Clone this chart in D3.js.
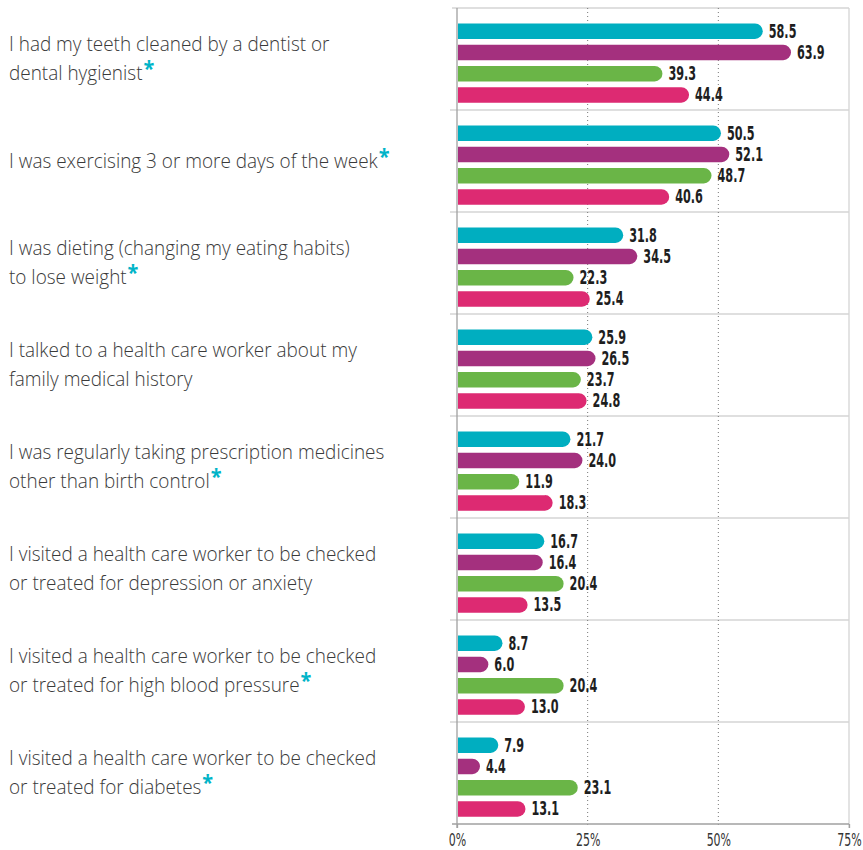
<!DOCTYPE html>
<html><head><meta charset="utf-8">
<script src="https://cdn.jsdelivr.net/npm/d3@7"></script>
<style>
html,body{margin:0;padding:0;background:#fff;}
svg{display:block;}
</style></head>
<body>
<svg id="chart" width="863" height="850"></svg>
<script>
// ---- data ----
const categories = [
  "teeth", "exercise", "dieting", "history", "prescription", "depression", "bloodpressure", "diabetes"
];
const labelLines = [
  ["I had my teeth cleaned by a dentist or", "dental hygienist"],
  ["I was exercising 3 or more days of the week"],
  ["I was dieting (changing my eating habits)", "to lose weight"],
  ["I talked to a health care worker about my", "family medical history"],
  ["I was regularly taking prescription medicines", "other than birth control"],
  ["I visited a health care worker to be checked", "or treated for depression or anxiety"],
  ["I visited a health care worker to be checked", "or treated for high blood pressure"],
  ["I visited a health care worker to be checked", "or treated for diabetes"]
];
const significant = [true, true, true, false, true, false, true, true];
const seriesNames = ["group1", "group2", "group3", "group4"];
const group1 = [58.5, 50.5, 31.8, 25.9, 21.7, 16.7, 8.7, 7.9];
const group2 = [63.9, 52.1, 34.5, 26.5, 24.0, 16.4, 6.0, 4.4];
const group3 = [39.3, 48.7, 22.3, 23.7, 11.9, 20.4, 20.4, 23.1];
const group4 = [44.4, 40.6, 25.4, 24.8, 18.3, 13.5, 13.0, 13.1];
const seriesValues = [group1, group2, group3, group4];
const seriesColors = ["#00aec0", "#a4307e", "#6ab547", "#dd2a72"];
const tickValues = [0, 25, 50, 75];
const footnote = "*SIGNIFICANT RACE DIFFERENCES";

// ---- layout ----
const svg = d3.select("#chart");
const x0 = 457, x1 = 849, yTop = 8, yBot = 824;
const x = d3.scaleLinear().domain([0, 75]).range([x0, x1]);
const y = d3.scaleBand().domain(categories).range([yTop, yBot]).padding(0);
const ySub = d3.scaleBand().domain(seriesNames).range([12.5, 97.5]).padding(0);
const barH = 15.5;
const narrow = '"DejaVu Sans Condensed", "DejaVu Sans", sans-serif';

// grid: top border, separators, right border
const grid = svg.append("g");
grid.append("line").attr("x1", 452).attr("x2", x1).attr("y1", yTop).attr("y2", yTop)
  .attr("stroke", "#d4d4d4").attr("stroke-width", 1.3);
categories.slice(1).forEach(c => {
  grid.append("line").attr("x1", 450).attr("x2", x1).attr("y1", y(c)).attr("y2", y(c))
    .attr("stroke", "#d4d4d4").attr("stroke-width", 1.3);
});
grid.append("line").attr("x1", x1).attr("x2", x1).attr("y1", yTop).attr("y2", yBot + 4)
  .attr("stroke", "#d4d4d4").attr("stroke-width", 1.3);
[25, 50].forEach(v => {
  grid.append("line").attr("x1", x(v)).attr("x2", x(v)).attr("y1", yTop).attr("y2", yBot + 2)
    .attr("stroke", "#777").attr("stroke-width", 1).attr("stroke-dasharray", "1,3");
});

// bars
const barsG = svg.append("g");
categories.forEach((c, i) => {
  seriesNames.forEach((s, j) => {
    const v = seriesValues[j][i];
    const cy = y(c) + ySub(s) + ySub.bandwidth() / 2;
    const xs = x(0) + 1, xe = x(v);
    const r = barH / 2;
    const top = cy - r, bot = cy + r;
    const p = d3.path();
    p.moveTo(xs, top);
    p.lineTo(xe - r, top);
    p.arc(xe - r, cy, r, -Math.PI / 2, Math.PI / 2);
    p.lineTo(xs, bot);
    p.closePath();
    barsG.append("path").attr("d", p.toString()).attr("fill", seriesColors[j]);
    barsG.append("text")
      .attr("transform", `translate(${xe + 6},${cy + 6.5}) scale(0.64,1)`)
      .attr("font-family", narrow).attr("font-weight", "bold").attr("font-size", 19.5)
      .attr("fill", "#1e1e1e").text(v.toFixed(1));
  });
});

// left axis line
svg.append("line").attr("x1", x0).attr("x2", x0).attr("y1", yTop).attr("y2", yBot + 4)
  .attr("stroke", "#a0a0a0").attr("stroke-width", 1.3);

// bottom axis
const axis = d3.axisBottom(x).tickValues(tickValues).tickFormat(d => d + "%").tickSize(4).tickSizeOuter(0);
const ax = svg.append("g").attr("transform", `translate(0,${yBot})`).call(axis);
ax.select(".domain").attr("stroke", "#a0a0a0").attr("stroke-width", 1.3).attr("d", `M452,0H${x1}`);
ax.selectAll(".tick line").attr("stroke", "#a0a0a0").attr("stroke-width", 1.3)
  .attr("opacity", d => (d === 0 || d === 75) ? 1 : 0);
ax.selectAll(".tick text").attr("font-family", narrow).attr("font-size", 18.5)
  .attr("fill", "#333").attr("dy", null).attr("y", null)
  .attr("transform", "translate(0,22) scale(0.66,1)");

// category labels
const lab = svg.append("g").attr("transform", "translate(9,0)");
const labInner = lab.append("g");
categories.forEach((c, i) => {
  const lines = labelLines[i];
  const cy = y(c) + y.bandwidth() / 2;
  const lh = 29;
  lines.forEach((ln, k) => {
    const by = cy + 7 + (k - (lines.length - 1) / 2) * lh;
    const t = labInner.append("text").attr("x", 0).attr("y", by)
      .attr("font-family", '"Open Sans", sans-serif').attr("font-size", 20).attr("font-weight", 300)
      .attr("fill", "#3a3a3a").text(ln);
    if (k === lines.length - 1 && significant[i]) {
      t.append("tspan").attr("fill", "#00b4c8").attr("font-weight", "bold")
        .attr("font-size", 21).attr("dx", 1).attr("dy", -4).text("*");
    }
  });
});
// compress labels horizontally to the condensed look of the original
let maxW = 0;
labInner.selectAll("text").each(function () {
  maxW = Math.max(maxW, this.getComputedTextLength());
});
const sx = 380 / maxW;
labInner.attr("transform", `scale(${sx},1)`);

// footnote (cut off at bottom)
svg.append("text").attr("x", -6).attr("y", 861)
  .attr("font-family", '"Open Sans", sans-serif').attr("font-weight", "bold").attr("font-size", 15)
  .attr("letter-spacing", 0.6).attr("fill", "#00b4c8").text(footnote);
</script>
</body></html>
